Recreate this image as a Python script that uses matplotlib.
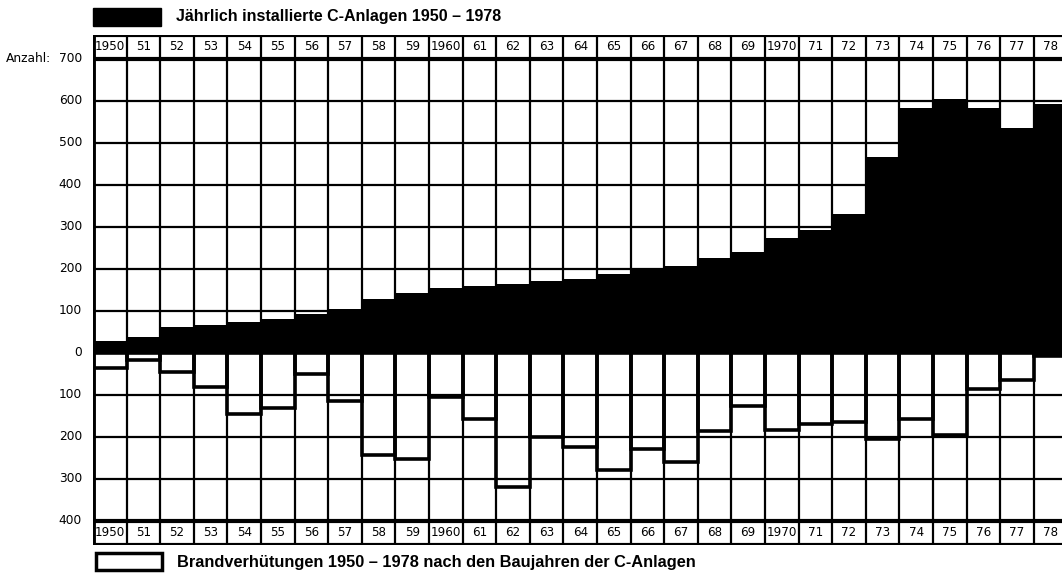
import numpy as np
import matplotlib
matplotlib.use("Agg")
import matplotlib.pyplot as plt
from matplotlib.patches import Rectangle

# --- data ---
year_labels = ["1950", "51", "52", "53", "54", "55", "56", "57", "58", "59",
               "1960", "61", "62", "63", "64", "65", "66", "67", "68", "69",
               "1970", "71", "72", "73", "74", "75", "76", "77", "78"]
installiert = [29, 39, 62, 67, 74, 82, 92, 104, 128, 142,
               154, 160, 165, 171, 177, 187, 200, 208, 226, 240,
               275, 293, 332, 467, 583, 604, 584, 535, 592]
brandverh = [36, 17, 45, 82, 145, 130, 50, 114, 243, 253,
             105, 158, 318, 199, 224, 279, 228, 259, 186, 126,
             184, 168, 164, 205, 156, 196, 86, 65, 8]
ticks_up = [700, 600, 500, 400, 300, 200, 100, 0]
ticks_down = [100, 200, 300, 400]

W, H = 1062, 573
fig = plt.figure(figsize=(W / 100, H / 100), dpi=100)
px = 0.42            # pixel per unit
col = 33.6           # pixel per year
x0, y_top, y_bot = 93, 35, 545
ymax = 700 + (59 - y_top) / px
ymin = -(y_bot - 353) / px
ax = fig.add_axes([x0 / W, (H - y_bot) / H, (W - x0) / W, (y_bot - y_top) / H])
ax.set_xlim(0, (W - x0) / col)
ax.set_ylim(ymin, ymax)
ax.axis("off")

n = len(year_labels)
x = np.arange(n)
hdr = 700 + (59 - 47) / px      # centre of top label row
ftr = -400 - (533 - 521) / px   # centre of bottom label row

# grid
for i in range(n + 1):
    ax.plot([i, i], [ymin, ymax], color="black", lw=1.6, zorder=1, solid_capstyle="butt")
for v in [100, 200, 300, 400, 500, 600]:
    ax.axhline(v, color="black", lw=1.6, zorder=1)
for v in [-100, -200, -300]:
    ax.axhline(v, color="black", lw=1.6, zorder=1)

# installations (black) and fire preventions (outlined bars)
ax.bar(x, installiert, width=1, align="edge", color="black", lw=0, zorder=2)
ax.bar(x, [-b for b in brandverh], width=1, align="edge", fill=False,
       edgecolor="black", lw=2.6, zorder=3)

# frame
for v in [ymax, 700, -400, ymin]:
    ax.axhline(v, color="black", lw=3, zorder=4)
ax.plot([0, 0], [ymin, ymax], color="black", lw=3.5, zorder=4)

# year labels in boxes
for i, lab in enumerate(year_labels):
    for yy in (hdr, ftr):
        ax.text(i + 0.5, yy, lab, ha="center", va="center", fontsize=8.6,
                family="DejaVu Sans", zorder=5)

# y tick labels
for v in ticks_up:
    fig.text(82 / W, (H - (353 - v * px)) / H, str(v), ha="right", va="center",
             fontsize=8.8, family="DejaVu Sans")
for v in ticks_down:
    fig.text(82 / W, (H - (353 + v * px)) / H, str(v), ha="right", va="center",
             fontsize=8.8, family="DejaVu Sans")
fig.text(51 / W, (H - 59) / H, "Anzahl:", ha="right", va="center",
         fontsize=8.8, family="DejaVu Sans")

# legend entries
fig.patches.append(Rectangle((93 / W, (H - 26) / H), 68 / W, 18 / H,
                             transform=fig.transFigure, facecolor="black",
                             edgecolor="black"))
fig.text(176 / W, (H - 17) / H, "Jährlich installierte C-Anlagen 1950 – 1978",
         ha="left", va="center", fontsize=11.5, fontweight="bold",
         family="Liberation Sans")
fig.patches.append(Rectangle((96 / W, (H - 570) / H), 66 / W, 17 / H,
                             transform=fig.transFigure, facecolor="white",
                             edgecolor="black", lw=2.5))
fig.text(177 / W, (H - 562) / H,
         "Brandverhütungen 1950 – 1978 nach den Baujahren der C-Anlagen",
         ha="left", va="center", fontsize=11.8, fontweight="bold",
         family="Liberation Sans")

fig.savefig("out.png", dpi=100)
